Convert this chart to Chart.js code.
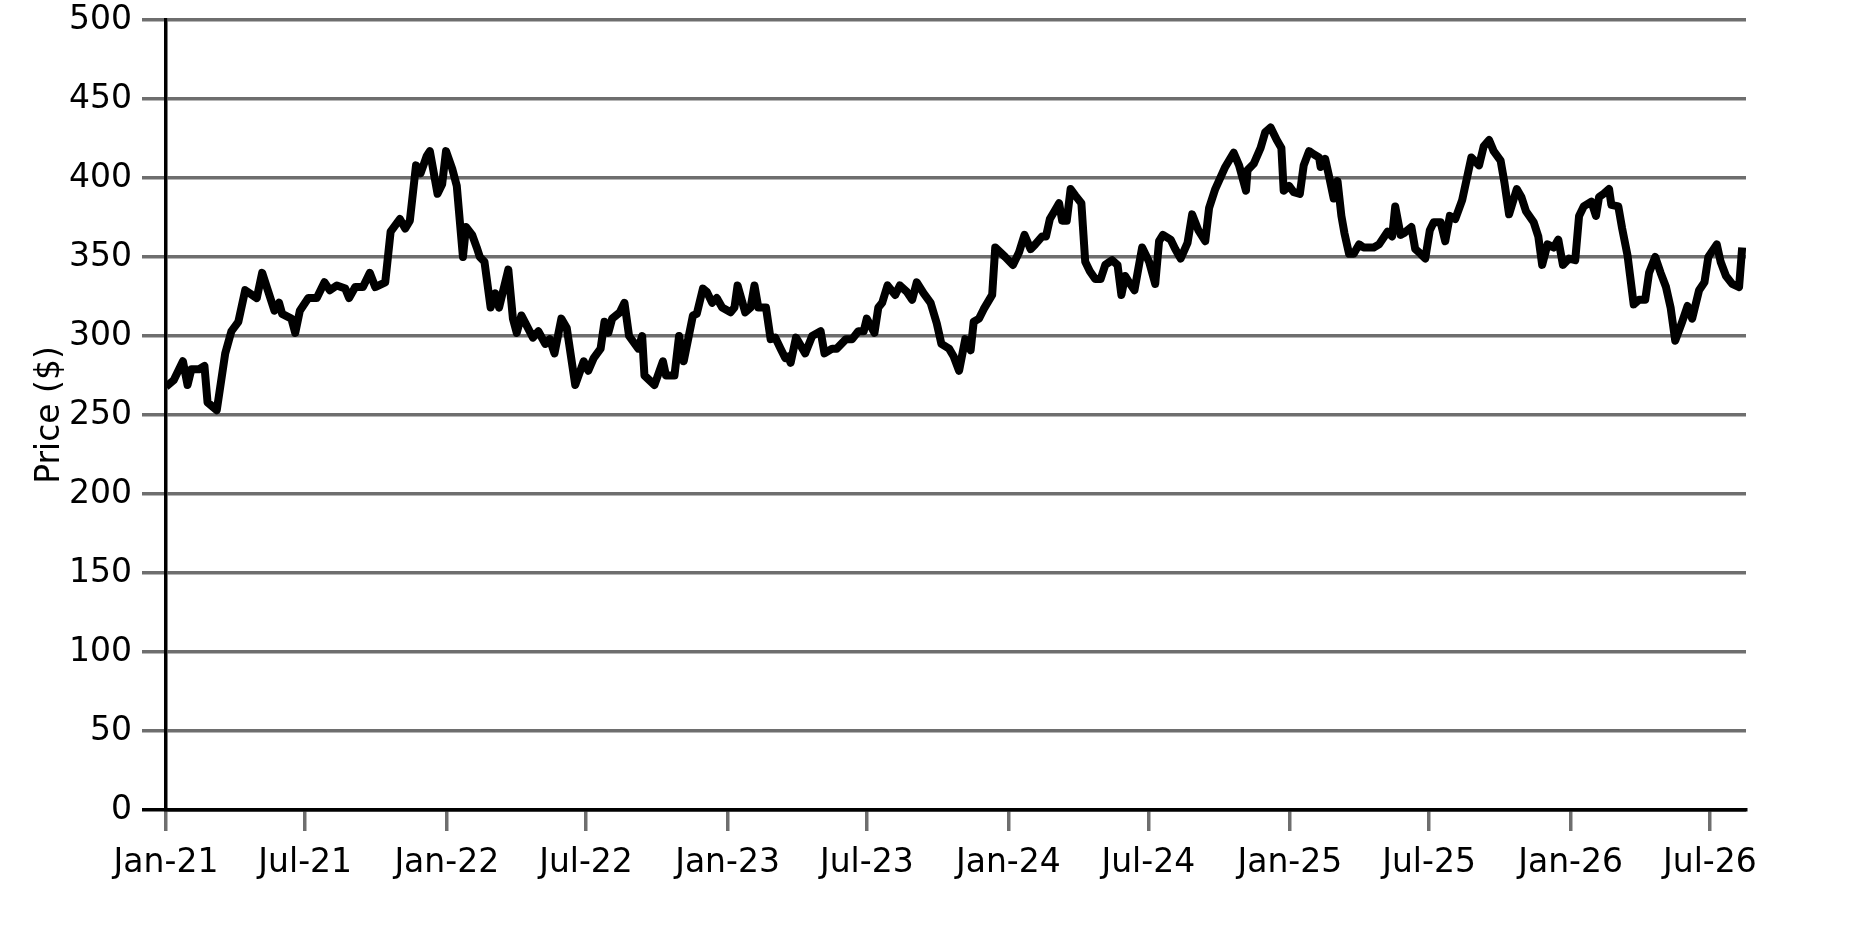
<!DOCTYPE html>
<html><head><meta charset="utf-8">
<script src="https://cdn.jsdelivr.net/npm/chart.js@4"></script>
<style>html,body{margin:0;padding:0;background:#fff}</style>
</head><body>
<canvas id="c" width="1875" height="938"></canvas>
<script>
const startDate = '2021-01-01';
const endDate = '2026-08-17';
const dayOffsets = [
  0,10,22,28,33,43,50,54,66,77,85,94,103,118,125,133,141,147,151,163,168,174,185,196,206,213,222,233,238,246,256,265,272,285,292,304,311,317,325,331,
  339,343,353,359,364,372,378,386,390,398,404,408,414,422,428,433,445,451,456,462,477,484,493,499,505,514,521,532,543,549,556,565,570,575,580,590,596,602,614,619,622,635,646,650,661,667,673,
  685,690,698,703,710,716,723,734,739,743,753,760,765,770,780,786,792,799,805,809,812,819,831,840,851,856,866,872,884,892,900,907,911,921,926,931,938,948,954,963,970,976,985,994,1002,1008,1018,1024,
  1031,1039,1046,1050,1057,1063,1074,1078,1091,1101,1109,1116,1124,1130,1139,1144,1149,1155,1161,1165,1171,1176,1182,1190,1195,1201,1208,1215,1221,1230,1237,1242,1247,1252,1259,1269,1278,1286,1291,1296,1306,1312,1319,1328,1334,1342,1351,1356,1364,
  1377,1388,1395,1404,1406,1414,1423,1429,1436,1444,1450,1453,1460,1466,1474,1479,1486,1492,1499,1501,1507,1512,1518,1523,1528,1532,1538,1544,1551,1557,1570,1577,1588,1594,1598,1605,1609,1619,1624,1631,1637,1643,1648,1657,1663,1669,1676,1685,1697,1707,1713,
  1720,1726,1735,1740,1746,1756,1762,1768,1778,1784,1789,1796,1804,1810,1816,1824,1832,1837,1843,1853,1859,1863,1869,1876,1879,1888,1893,1900,1908,1915,1923,1928,1936,1943,1950,1956,1962,1971,1978,1984,1993,2000,2005,2016,2021,2028,2036,2045,2049
];
const prices = [
  268,272,284,269,279,279,281,258,253,289,303,309,329,324,340,328,316,321,314,311,302,316,324,324,334,329,332,330,324,331,331,340,331,334,366,374,368,373,408,403,
  414,417,390,396,417,406,395,350,369,364,356,350,347,318,327,318,342,311,302,313,299,303,295,298,289,311,305,269,284,278,286,292,309,302,311,315,321,300,292,300,275,269,284,275,275,300,284,
  313,314,330,328,321,324,318,315,318,332,315,318,332,318,318,298,299,292,286,287,283,299,289,300,303,289,292,292,298,298,303,303,311,302,318,321,332,326,332,328,323,334,327,321,308,295,292,287,
  278,298,291,309,311,317,326,356,350,345,353,364,355,358,363,363,374,379,384,373,373,393,389,384,347,341,336,336,345,348,345,326,338,334,329,356,347,333,360,364,361,355,349,359,377,367,360,381,393,
  407,416,408,392,405,409,419,429,432,424,419,392,395,391,390,408,417,415,413,407,412,401,387,398,376,365,352,352,358,356,356,358,366,363,382,364,365,369,355,352,349,367,372,372,360,376,374,386,413,408,420,
  424,417,411,397,377,393,388,379,372,363,345,358,356,361,345,349,348,376,382,385,376,388,390,393,383,382,368,351,320,323,323,340,350,340,331,318,297,309,319,311,329,334,350,358,347,338,333,331,356
];
const yTickValues = [0,50,100,150,200,250,300,350,400,450,500];
const xTickDates = ['2021-01-01','2021-07-01','2022-01-01','2022-07-01','2023-01-01','2023-07-01','2024-01-01','2024-07-01','2025-01-01','2025-07-01','2026-01-01','2026-07-01'];
const xTickLabels = ['Jan-21','Jul-21','Jan-22','Jul-22','Jan-23','Jul-23','Jan-24','Jul-24','Jan-25','Jul-25','Jan-26','Jul-26'];
const yAxisTitle = 'Price ($)';

function dayIndex(iso){ return Math.round((Date.parse(iso) - Date.parse(startDate)) / 86400000); }
const xTickDays = xTickDates.map(dayIndex);
const FONT = {family: "'DejaVu Sans', sans-serif", size: 33};
const GRAY = '#6e6e6e';

new Chart(document.getElementById('c').getContext('2d'), {
  type: 'line',
  data: {
    datasets: [{
      data: dayOffsets.map((d, i) => ({x: d, y: prices[i]})),
      borderColor: '#000', borderWidth: 8, pointRadius: 0, tension: 0,
      borderJoinStyle: 'round', borderCapStyle: 'butt', fill: false
    }]
  },
  options: {
    responsive: false, animation: false, devicePixelRatio: 1,
    layout: {padding: {left: 0, right: 129, top: 20, bottom: 0}},
    plugins: {legend: {display: false}, tooltip: {enabled: false}},
    scales: {
      x: {
        type: 'linear', min: 0, max: dayIndex(endDate),
        afterBuildTicks: s => { s.ticks = xTickDays.map(v => ({value: v})); },
        afterFit: s => { s.height = 128; s.paddingLeft = 0; s.paddingRight = 0; },
        grid: {drawOnChartArea: false, drawTicks: true, tickLength: 21, color: GRAY, lineWidth: 3.5},
        border: {display: true, color: '#000', width: 3.5},
        ticks: {autoSkip: false, maxRotation: 0, minRotation: 0, padding: 13, color: '#000', font: FONT,
          callback: (v, i) => xTickLabels[i]}
      },
      y: {
        min: 0, max: 500,
        afterBuildTicks: s => { s.ticks = yTickValues.map(v => ({value: v})); },
        afterFit: s => { s.width = 166; s.paddingTop = 0; s.paddingBottom = 0; },
        grid: {color: c => (c.tick && c.tick.value === 0) ? '#000' : GRAY, lineWidth: 3.5, tickLength: 24},
        border: {display: true, color: '#000', width: 3.5},
        ticks: {padding: 10, color: '#000', font: FONT},
        title: {display: true, text: yAxisTitle, color: '#000', font: FONT, padding: {top: 31, bottom: 0}}
      }
    }
  }
});
</script>
</body></html>
